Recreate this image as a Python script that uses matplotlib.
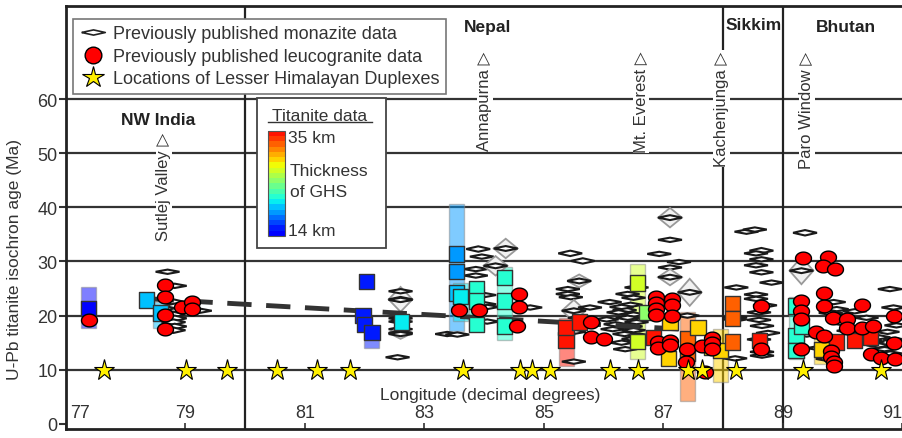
import numpy as np
import matplotlib
matplotlib.use('Agg')
import matplotlib.pyplot as plt
from matplotlib.patches import Polygon, Rectangle
from matplotlib.colors import ListedColormap
from matplotlib.lines import Line2D
from matplotlib.path import Path

plt.rcParams['font.family'] = ['Liberation Sans', 'DejaVu Sans']

# ---- titanite (square = age, colour = thickness of GHS in km)
ttn_lon = [77.38, 78.35, 78.58, 82.03, 81.97, 82.00, 82.12, 82.62, 83.54, 83.54, 83.54,
           83.60, 83.87, 83.87, 83.87, 84.34, 84.34, 84.34, 85.37, 85.37, 85.60, 86.56,
           86.56, 86.72, 86.83, 87.11, 87.08, 87.40, 87.40, 87.58, 87.81, 87.95, 88.16,
           88.16, 88.16, 88.61, 89.22, 89.22, 89.22, 89.31, 89.65, 89.90, 90.20, 90.46]
ttn_age = [21.3, 22.9, 20.5, 26.3, 20.0, 18.4, 16.9, 18.8, 31.4, 28.1, 24.2,
           23.5, 24.9, 22.7, 18.4, 27.1, 22.7, 18.1, 15.5, 17.8, 18.8, 26.0,
           15.2, 20.6, 16.0, 18.8, 12.1, 15.7, 13.0, 17.8, 14.1, 13.5, 22.3,
           19.4, 15.1, 15.4, 21.8, 16.3, 13.5, 18.1, 13.8, 15.1, 15.4, 16.0]
ttn_thick = [14.8, 20.0, 20.0, 16.0, 16.0, 15.5, 15.5, 20.8, 19.0, 19.0, 19.5,
             20.3, 22.3, 22.3, 22.3, 22.3, 22.3, 22.3, 34.7, 34.7, 34.2, 27.3,
             27.3, 25.5, 34.7, 29.6, 29.6, 32.3, 32.3, 29.6, 28.5, 29.6, 32.5,
             32.5, 32.5, 34.5, 22.0, 22.0, 22.0, 22.0, 29.6, 34.7, 34.7, 34.7]

# titanite age ranges (translucent bars)
bar_lon = [77.38, 78.58, 82.12, 83.54, 83.60, 83.87, 84.34, 85.37, 86.56, 87.40, 87.95, 89.22, 89.65]
bar_lo = [17.7, 17.8, 14.1, 17.2, 19.0, 17.3, 15.5, 10.7, 12.0, 4.3, 7.7, 12.0, 11.0]
bar_hi = [25.3, 22.5, 17.5, 40.6, 26.0, 25.5, 28.9, 19.5, 29.5, 20.6, 17.5, 23.4, 16.5]
bar_thick = [14.8, 20.0, 15.5, 19.0, 20.3, 22.3, 22.3, 34.7, 27.3, 32.3, 29.6, 22.0, 29.6]

# ---- previously published leucogranite data
leu_lon = [77.38, 78.66, 78.66, 78.66, 78.66, 78.94, 79.11, 79.11,
           83.57, 83.91, 84.58, 84.58, 84.55, 85.78, 85.78, 86.00,
           86.88, 86.88, 86.88, 86.88, 87.15, 87.15, 87.15, 86.91, 86.91, 87.11, 87.11,
           87.39, 87.37, 87.64, 87.70, 87.82, 87.82, 87.82, 88.63, 88.63,
           89.34, 89.76, 89.67, 89.88, 89.69, 89.31, 89.31, 89.31, 89.69, 90.32,
           89.84, 90.08, 90.08, 90.32, 90.51, 89.56, 89.69, 89.80, 89.80, 89.86,
           89.86, 90.48, 90.65, 90.86, 90.86, 90.88, 89.31]
leu_age = [19.1, 25.6, 23.4, 20.2, 17.5, 21.5, 22.6, 21.2,
           21.1, 21.1, 24.0, 21.5, 18.1, 18.9, 16.0, 15.7,
           23.4, 22.3, 21.2, 20.1, 23.1, 22.0, 20.0, 15.1, 14.1, 15.4, 14.6,
           13.8, 11.5, 14.4, 9.5, 15.8, 14.9, 13.9, 21.7, 13.9,
           30.6, 30.9, 29.1, 28.7, 24.1, 22.7, 20.9, 19.4, 21.8, 21.9,
           19.5, 19.4, 17.8, 17.7, 18.0, 16.9, 16.3, 13.5, 12.3, 11.5,
           10.7, 12.9, 12.2, 20.0, 14.9, 12.0, 13.8]

# ---- previously published monazite data (age +/- error)
mnz_lon = [78.70, 78.82, 78.80, 78.85, 78.88, 78.80, 78.82, 78.80, 78.82, 78.80, 79.24,
           82.60, 82.60, 82.60, 82.60, 82.60, 82.60, 82.60, 82.60, 82.55, 83.38,
           83.90, 83.96, 83.86, 83.86, 84.36, 84.19, 84.00, 84.00, 84.05, 84.05, 83.55, 84.50, 84.77,
           85.44, 85.65, 85.59, 85.40, 85.40, 85.45, 85.50, 85.60, 85.50, 85.50, 85.77,
           86.55, 86.40, 86.50, 86.45, 86.35, 86.50, 86.40, 86.55, 86.45, 86.50, 86.35, 86.50,
           86.30, 86.36, 86.10, 86.15, 86.25, 86.20, 86.60, 86.30, 86.05,
           87.11, 87.11, 86.93, 87.26, 87.11, 87.11, 87.44, 87.40, 88.22, 88.20, 88.20, 88.20,
           88.39, 88.53, 88.64, 88.55, 88.64, 88.55, 88.64, 88.81, 88.55, 88.55, 88.60, 88.65,
           88.60, 88.65, 88.65, 88.70, 88.60, 88.75,
           89.37, 89.31, 89.85, 89.90, 89.80, 89.95, 90.00, 90.10, 90.30, 90.50, 90.60, 90.70,
           90.80, 90.75, 90.79, 90.85, 90.90, 89.40, 89.60, 89.75, 90.20, 90.40, 90.60, 90.88]
mnz_age = [28.1, 25.5, 22.5, 21.8, 21.0, 20.2, 19.5, 18.8, 18.0, 17.3, 20.9,
           23.0, 24.5, 22.9, 19.5, 18.9, 17.5, 16.8, 16.6, 12.3, 16.6,
           32.3, 30.9, 28.6, 27.4, 32.4, 29.2, 23.8, 22.1, 21.6, 18.9, 16.5, 21.8, 21.5,
           31.5, 30.1, 26.4, 24.9, 24.0, 23.4, 20.9, 19.6, 17.0, 11.5, 21.5,
           25.2, 24.0, 23.3, 22.0, 21.0, 20.2, 19.6, 18.8, 18.0, 17.3, 16.6, 15.7,
           15.0, 13.8, 22.5, 17.5, 20.6, 18.4, 16.3, 21.6, 19.3,
           38.1, 34.0, 31.4, 29.9, 28.9, 27.1, 24.3, 20.0, 25.2, 19.7, 19.3, 12.1,
           35.5, 35.9, 32.0, 31.5, 30.4, 29.3, 28.0, 26.1, 23.9, 23.1, 20.6, 18.1,
           15.6, 13.3, 12.6, 21.9, 19.2, 16.8,
           35.3, 28.3, 22.5, 21.2, 20.5, 19.9, 18.6, 17.2, 16.5, 15.2, 14.5, 13.8,
           13.0, 17.0, 24.9, 21.5, 18.2, 16.5, 14.0, 12.0, 20.8, 19.6, 16.0, 15.5]
mnz_err = [0.4, 0.4, 0.5, 0.5, 0.5, 0.5, 0.5, 0.5, 0.5, 0.5, 0.4,
           2.3, 0.4, 0.4, 0.4, 0.4, 0.4, 1.1, 0.4, 0.4, 0.4,
           0.5, 0.4, 0.4, 0.4, 1.8, 1.8, 0.4, 0.4, 0.4, 0.4, 0.4, 0.4, 0.4,
           0.5, 0.5, 1.2, 0.4, 0.4, 0.4, 2.0, 0.4, 0.4, 0.4, 0.4,
           0.4, 0.4, 0.4, 0.4, 0.5, 0.4, 0.4, 0.4, 0.5, 0.4, 0.4, 0.4,
           0.4, 0.4, 0.4, 0.4, 0.4, 0.4, 0.4, 0.4, 0.4,
           1.8, 0.4, 0.4, 0.4, 0.4, 1.5, 2.5, 0.4, 0.4, 0.4, 0.4, 0.4,
           0.4, 0.4, 0.5, 0.4, 0.4, 0.4, 0.4, 0.4, 0.4, 0.4, 0.4, 0.4,
           0.4, 0.4, 0.4, 0.4, 0.4, 0.4,
           0.5, 2.5, 0.4, 0.4, 0.4, 0.4, 0.4, 0.4, 0.4, 0.4, 0.4, 0.4,
           0.4, 0.4, 0.4, 0.4, 0.4, 0.4, 0.4, 0.4, 0.4, 0.4, 0.4, 0.4]

# ---- Lesser Himalayan duplexes (plotted along the 10 Ma line)
lhd_lon = [77.64, 79.01, 79.69, 80.53, 81.20, 81.75, 83.64, 84.60, 84.80, 85.10,
           86.10, 86.57, 87.41, 87.64, 88.21, 89.33, 90.64]
lhd_age = 10

# trend line
trend_lon = [78.4, 87.6]
trend_age = [23.1, 17.3]

# labels
region_names = ['NW India', 'Nepal', 'Sikkim', 'Bhutan']
region_lon = [78.54, 84.05, 88.51, 90.05]
region_age = [56.3, 73.4, 73.7, 73.4]
region_bounds = [80, 88, 89]
site_names = ['Sutlej Valley', 'Annapurna', 'Mt. Everest', 'Kachenjunga', 'Paro Window']
site_lon = [78.64, 84.01, 86.63, 87.97, 89.40]
site_top = [53.9, 68.9, 68.9, 68.9, 68.9]
yticks = [0, 10, 20, 30, 40, 50, 60]
xticks = [77, 79, 81, 83, 85, 87, 89, 91]

cmap = ListedColormap(plt.get_cmap('jet')(np.linspace(0.11, 0.89, 20)))


def thick_color(t):
    return cmap((t - 14.0) / 21.0)


fig = plt.figure(figsize=(9.03, 4.39), dpi=100)
ax = fig.add_axes([66 / 903, 9 / 439, 837 / 903, 423 / 439])
ax.set_xlim(77, 91.01)
ax.set_ylim(-0.95, 77.2)

for v in yticks[1:]:
    ax.axhline(v, color='#333333', lw=1.6, zorder=1)
for v in region_bounds:
    ax.axvline(v, color='#222222', lw=1.6, zorder=1)

# titanite range bars
for lon, lo, hi, t in zip(bar_lon, bar_lo, bar_hi, bar_thick):
    ax.add_patch(Rectangle((lon - 0.125, lo), 0.25, hi - lo, fc=thick_color(t), alpha=0.5,
                           ec='#888888', lw=1, zorder=2))

# monazite diamonds
for lon, age, err in zip(mnz_lon, mnz_age, mnz_err):
    if err > 1.0:
        w = 0.2
        ax.add_patch(Polygon([(lon - w, age), (lon, age + err), (lon + w, age), (lon, age - err)],
                             closed=True, fc='#f2f2f2', ec='#999999', lw=1.3, zorder=3))
        err = 0.45
    w = 0.2
    ax.add_patch(Polygon([(lon - w, age), (lon, age + err), (lon + w, age), (lon, age - err)],
                         closed=True, fc='white', ec='#1a1a1a', lw=1.5, zorder=3))

ax.plot(trend_lon, trend_age, color='#333333', lw=3.5, dashes=(5, 3), zorder=3.5)

ax.scatter(ttn_lon, ttn_age, marker='s', s=11 ** 2, c=[thick_color(t) for t in ttn_thick],
           edgecolors='#333333', linewidths=1, zorder=4)

t = np.linspace(0, 2 * np.pi, 40)
ellipse = Path(np.column_stack([np.cos(t), 0.8 * np.sin(t)]))
ax.plot(leu_lon, leu_age, ls='none', marker=ellipse, ms=11.5, mfc='#ff0000', mec='black',
        mew=1, zorder=5)

ax.plot(lhd_lon, [lhd_age] * len(lhd_lon), ls='none', marker='*', ms=15.5, mfc='#fff000',
        mec='black', mew=0.8, zorder=5.5)

# axes styling
for s in ['left', 'bottom', 'top']:
    ax.spines[s].set_linewidth(2)
    ax.spines[s].set_color('#222222')
ax.spines['right'].set_visible(False)
ax.set_yticks(yticks)
ax.set_yticklabels([str(v) for v in yticks], fontsize=13, color='#333333')
ax.tick_params(axis='y', length=5, width=1.5, direction='out', pad=1, color='#333333')
ax.set_xticks(xticks)
ax.set_xticklabels([])
ax.tick_params(axis='x', length=4, width=1.2, direction='in', color='#333333')

for v in xticks:
    ha = 'center'
    x = v
    if v == xticks[0]:
        ha, x = 'left', v + 0.07
    elif v == xticks[-1]:
        ha, x = 'right', 91.0
    ax.text(x, 2.1, str(v), fontsize=13, ha=ha, va='center', color='#333333', zorder=6)
ax.text(84.1, 5.4, 'Longitude (decimal degrees)', fontsize=12.5, ha='center', va='center',
        color='#333333', zorder=6)
fig.text(15 / 903, 1 - 260 / 439, 'U-Pb titanite isochron age (Ma)', rotation=90,
         fontsize=12.5, ha='center', va='center', color='#333333')

for name, lon, age in zip(region_names, region_lon, region_age):
    ax.text(lon, age, name, fontsize=12.5, fontweight='bold', ha='center', va='center',
            color='#222222', zorder=6)
for name, lon, top in zip(site_names, site_lon, site_top):
    ax.text(lon, top, name + ' \u25b7', rotation=90, fontsize=12, ha='center', va='top',
            color='#333333', zorder=6, bbox=dict(fc='white', ec='none', pad=0.5))

# legend for previous data
mnz_marker = Path([(-1, 0), (0, 0.22), (1, 0), (0, -0.22), (-1, 0)])
handles = [Line2D([], [], ls='none', marker=mnz_marker, ms=17, mfc='white', mec='#222222', mew=1.2),
           Line2D([], [], ls='none', marker='o', ms=12, mfc='#ff0000', mec='black', mew=1),
           Line2D([], [], ls='none', marker='*', ms=16, mfc='#fff000', mec='black', mew=0.8)]
labels = ['Previously published monazite data', 'Previously published leucogranite data',
          'Locations of Lesser Himalayan Duplexes']
leg = ax.legend(handles, labels, loc='upper left', bbox_to_anchor=(0.008, 0.969), fontsize=13,
                frameon=True, fancybox=False, edgecolor='#777777', framealpha=1,
                borderaxespad=0, handletextpad=0.4, labelspacing=0.3, borderpad=0.35,
                handlelength=1.5)
leg.get_frame().set_linewidth(1.2)
leg.set_zorder(7)
for txt in leg.get_texts():
    txt.set_color('#333333')

# titanite thickness key
ax.add_patch(Rectangle((0.228, 0.428), 0.154, 0.3545, transform=ax.transAxes, fc='white',
                       ec='#444444', lw=1.3, zorder=7))
n = cmap.N
x0, x1, y0, y1 = 0.2413, 0.2616, 0.4563, 0.7045
for i in range(n):
    ax.add_patch(Rectangle((x0, y0 + (y1 - y0) * i / n), x1 - x0, (y1 - y0) / n,
                           transform=ax.transAxes, fc=cmap(i), ec='none', zorder=8))
ax.add_patch(Rectangle((x0, y0), x1 - x0, y1 - y0, transform=ax.transAxes, fc='none',
                       ec='#555555', lw=0.8, zorder=8))
ax.text(0.3035, 0.742, 'Titanite data', transform=ax.transAxes, fontsize=12.5, ha='center',
        va='center', color='#333333', zorder=8)
ax.plot([0.2413, 0.3655], [0.7255, 0.7255], transform=ax.transAxes, color='#333333', lw=1,
        zorder=8)
ax.text(0.265, 0.690, '35 km', transform=ax.transAxes, fontsize=12.5, ha='left', va='center',
        color='#333333', zorder=8)
ax.text(0.2676, 0.610, 'Thickness', transform=ax.transAxes, fontsize=12.5, ha='left',
        va='center', color='#333333', zorder=8)
ax.text(0.2676, 0.5626, 'of GHS', transform=ax.transAxes, fontsize=12.5, ha='left',
        va='center', color='#333333', zorder=8)
ax.text(0.265, 0.469, '14 km', transform=ax.transAxes, fontsize=12.5, ha='left', va='center',
        color='#333333', zorder=8)

fig.savefig('out.png', dpi=100)
